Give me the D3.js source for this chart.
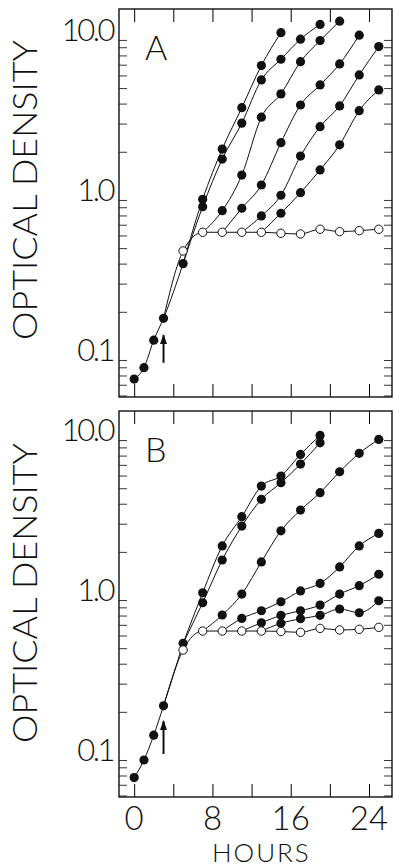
<!DOCTYPE html>
<html>
<head>
<meta charset="utf-8">
<script src="https://cdn.jsdelivr.net/npm/d3@7"></script>
<style>
  body { margin: 0; background: #fff; }
  text { font-family: Lato, 'Open Sans', 'DejaVu Sans', sans-serif; font-weight: 300; fill: #111; }
</style>
</head>
<body>
<div id="chart"></div>
<script>
// growth before the split (hours 0-5), filled circles
const hoursTrunk = [0, 1, 2, 3, 5]
const trunkA = [0.076, 0.0895, 0.133, 0.182, 0.4]
const trunkB = [0.0776, 0.1, 0.143, 0.218, 0.536]

// control culture, open circles
const hoursControl = [5, 7, 9, 11, 13, 15, 17, 19, 21, 23, 25]
const controlA = [0.48, 0.628, 0.628, 0.628, 0.628, 0.619, 0.613, 0.656, 0.634, 0.643, 0.656]
const controlB = [0.487, 0.64, 0.64, 0.64, 0.64, 0.636, 0.628, 0.665, 0.65, 0.656, 0.675]

// treated cultures: hour they branch off, then OD every 2 h after that
const branchHours = [5, 5, 7, 9, 11, 13]
const treatedA = [
  [1.01, 2.08, 3.77, 6.91, 11.1],
  [0.908, 1.8, 3.02, 5.62, 7.57, 10.1, 12.5],
  [0.857, 1.43, 3.29, 4.6, 7.31, 9.9, 13.1],
  [0.887, 1.24, 2.28, 3.92, 5.23, 7.08, 10.7],
  [0.794, 1.07, 1.88, 2.87, 3.87, 6.04, 9.08],
  [0.826, 1.11, 1.54, 2.21, 3.61, 4.87]
]
const treatedB = [
  [1.11, 2.18, 3.32, 5.16, 5.96, 8.14, 10.7],
  [0.962, 1.78, 2.9, 4.26, 5.41, 7.08, 9.62],
  [0.806, 1.09, 1.73, 2.71, 3.65, 4.69, 6.34, 8.26, 10.1],
  [0.768, 0.857, 0.976, 1.14, 1.27, 1.61, 2.18, 2.61],
  [0.721, 0.802, 0.857, 0.93, 1.09, 1.23, 1.45],
  [0.715, 0.764, 0.802, 0.879, 0.833, 0.99]
]

const xTicks = [0, 4, 8, 12, 16, 20, 24]
const xLabels = [0, 8, 16, 24]
const yLabels = [0.1, 1, 10]
const yLabelText = ['0.1', '1.0', '10.0']
const arrowHour = 3
const arrowA = [0.096, 0.143]
const arrowB = [0.109, 0.175]

const width = 393
const height = 867
const left = 119
const plotW = 273

const svg = d3
  .select('#chart')
  .append('svg')
  .attr('width', width)
  .attr('height', height)

const x = d3.scaleLinear().domain([-1.55, 26.35]).range([0, plotW])

svg
  .append('defs')
  .append('marker')
  .attr('id', 'head')
  .attr('viewBox', '0 0 10 10')
  .attr('refX', 9)
  .attr('refY', 5)
  .attr('markerWidth', 5)
  .attr('markerHeight', 5)
  .attr('orient', 'auto')
  .append('path')
  .attr('d', 'M0,1.5 L10,5 L0,8.5 Z')
  .attr('fill', '#111')

function drawPanel(opts) {
  const g = svg
    .append('g')
    .attr('transform', 'translate(' + left + ',' + opts.top + ')')

  const y = d3.scaleLog().domain(opts.domain).range([opts.h, 0])

  const line = d3
    .line()
    .x(d => x(d[0]))
    .y(d => y(d[1]))
    .curve(d3.curveMonotoneX)

  // build point lists
  const trunk = hoursTrunk.map((h, i) => [h, opts.trunk[i]])
  const control = hoursControl.map((h, i) => [h, opts.control[i]])
  const curves = opts.treated.map((vals, k) => {
    const b = branchHours[k]
    const start = b === 5 ? trunk[4] : control[hoursControl.indexOf(b)]
    return [start].concat(vals.map((v, i) => [b + 2 * (i + 1), v]))
  })

  // log ticks, inward on both sides
  const logTicks = y.ticks().filter(t => t >= opts.domain[0] && t <= opts.domain[1])
  g.append('g')
    .call(d3.axisLeft(y).tickValues(logTicks).tickSize(-8).tickFormat(''))
    .call(a => a.select('.domain').remove())
    .call(a => a.selectAll('line').attr('stroke-width', 0.8))
  g.append('g')
    .attr('transform', 'translate(' + plotW + ',0)')
    .call(d3.axisRight(y).tickValues(logTicks).tickSize(-8).tickFormat(''))
    .call(a => a.select('.domain').remove())
    .call(a => a.selectAll('line').attr('stroke-width', 0.8))

  g.append('g')
    .call(d3.axisTop(x).tickValues(xTicks).tickSize(-13).tickFormat(''))
    .call(a => a.select('.domain').remove())
  g.append('g')
    .attr('transform', 'translate(0,' + opts.h + ')')
    .call(d3.axisBottom(x).tickValues(xTicks).tickSize(-13).tickFormat(''))
    .call(a => a.select('.domain').remove())

  g.append('rect')
    .attr('width', plotW)
    .attr('height', opts.h)
    .attr('fill', 'none')
    .attr('stroke', '#111')
    .attr('stroke-width', 1.4)

  g.selectAll('.ylab')
    .data(yLabels)
    .enter()
    .append('text')
    .attr('class', 'ylab')
    .attr('x', -6)
    .attr('y', d => y(d) + 1)
    .attr('text-anchor', 'end')
    .attr('font-size', 31)
    .attr('letter-spacing', -2.5)
    .text((d, i) => yLabelText[i])

  g.append('text')
    .attr('transform', 'translate(' + (37 - left) + ',' + opts.titleY + ') rotate(-90)')
    .attr('text-anchor', 'middle')
    .attr('font-size', 33)
    .attr('textLength', 300)
    .attr('lengthAdjust', 'spacingAndGlyphs')
    .text('OPTICAL DENSITY')

  g.append('text')
    .attr('x', 26)
    .attr('y', opts.letterY)
    .attr('font-size', 34)
    .text(opts.letter)

  // lines
  g.append('path').datum(trunk).attr('d', line)
  g.append('path').datum([trunk[3]].concat(control)).attr('d', line)
  g.selectAll('.curve')
    .data(curves)
    .enter()
    .append('path')
    .attr('class', 'curve')
    .attr('d', line)
  g.selectAll('path').filter(function() { return !this.closest('.tick') && !this.closest('marker') })
    .attr('fill', 'none')
    .attr('stroke', '#111')
    .attr('stroke-width', 1)

  // arrow
  g.append('line')
    .attr('x1', x(arrowHour))
    .attr('x2', x(arrowHour))
    .attr('y1', y(opts.arrow[0]))
    .attr('y2', y(opts.arrow[1]))
    .attr('stroke', '#111')
    .attr('stroke-width', 2)
    .attr('marker-end', 'url(#head)')

  // dots
  const filled = trunk.concat(...curves.map(c => c.slice(1)))
  g.selectAll('.dot')
    .data(filled)
    .enter()
    .append('circle')
    .attr('class', 'dot')
    .attr('cx', d => x(d[0]))
    .attr('cy', d => y(d[1]))
    .attr('r', 4.6)
    .attr('fill', '#111')

  g.selectAll('.open')
    .data(control)
    .enter()
    .append('circle')
    .attr('class', 'open')
    .attr('cx', d => x(d[0]))
    .attr('cy', d => y(d[1]))
    .attr('r', 4.2)
    .attr('fill', '#fff')
    .attr('stroke', '#111')
    .attr('stroke-width', 1)

  return g
}

drawPanel({
  top: 9,
  h: 388,
  domain: [0.0587, 15.6],
  trunk: trunkA,
  control: controlA,
  treated: treatedA,
  arrow: arrowA,
  letter: 'A',
  letterY: 51,
  titleY: 190 - 9
})

const gB = drawPanel({
  top: 411,
  h: 386,
  domain: [0.0587, 15.2],
  trunk: trunkB,
  control: controlB,
  treated: treatedB,
  arrow: arrowB,
  letter: 'B',
  letterY: 51,
  titleY: 593 - 411
})

gB.selectAll('.xlab')
  .data(xLabels)
  .enter()
  .append('text')
  .attr('class', 'xlab')
  .attr('x', d => x(d))
  .attr('y', 830 - 411)
  .attr('text-anchor', 'middle')
  .attr('font-size', 33)
  .text(d => d)

gB.append('text')
  .attr('x', x(13))
  .attr('y', 862 - 411)
  .attr('text-anchor', 'middle')
  .attr('font-size', 26)
  .attr('letter-spacing', 2)
  .text('HOURS')
</script>
</body>
</html>
